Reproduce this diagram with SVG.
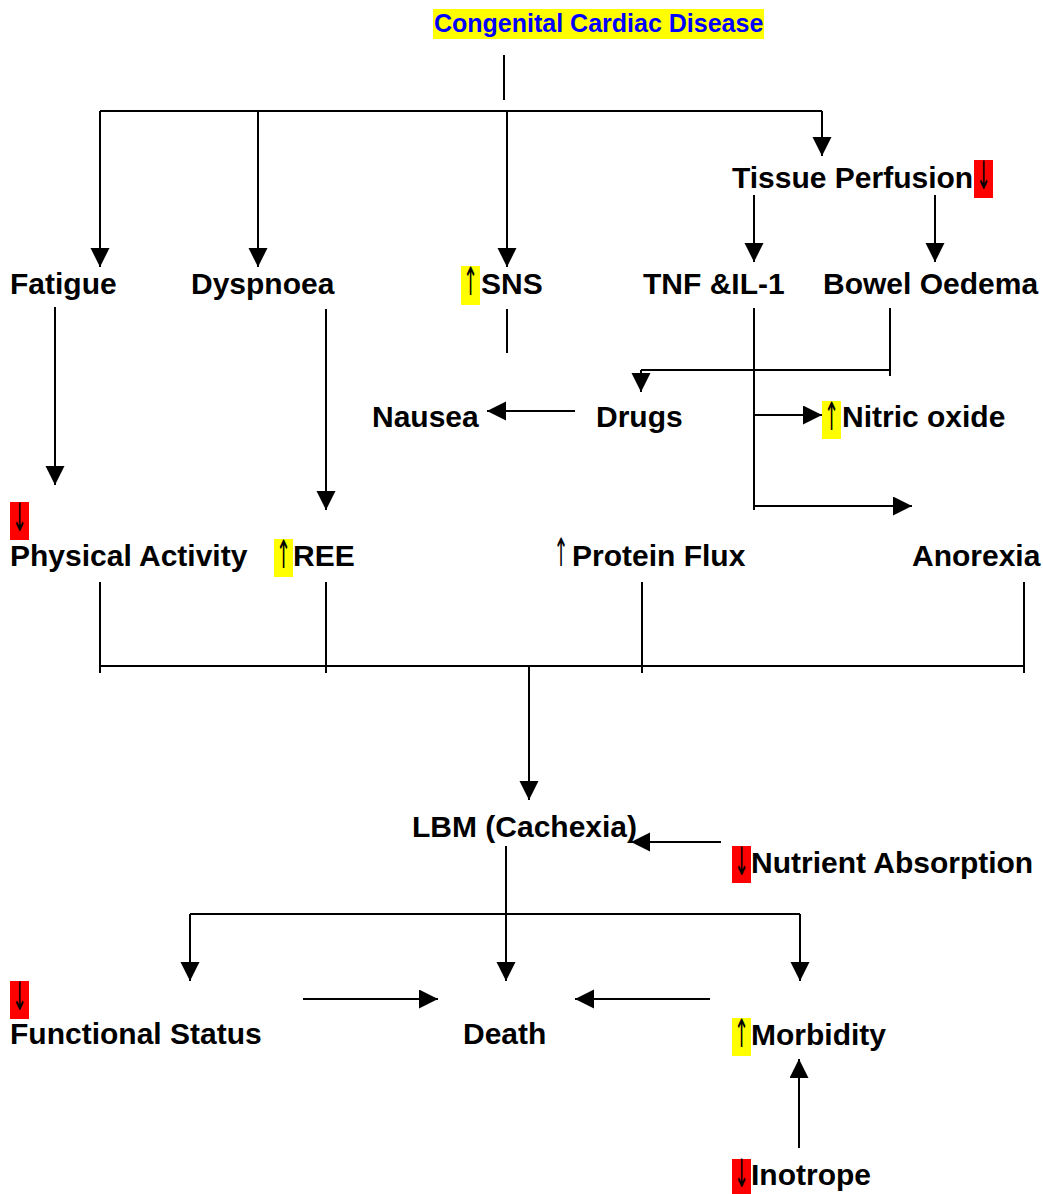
<svg xmlns="http://www.w3.org/2000/svg" width="1043" height="1194" viewBox="0 0 1043 1194">
<style>
.t{font-family:"Liberation Sans",Arial,sans-serif;font-weight:bold;font-size:30px;fill:#000}
.ttl{font-family:"Liberation Sans",Arial,sans-serif;font-weight:bold;font-size:25px;fill:#0000ff}
.ar{font-family:"DejaVu Sans",sans-serif;font-weight:normal;font-size:30px;fill:#000;text-anchor:middle}
.y{fill:#ffff00}
.r{fill:#ff0000}
.c path{fill:none;stroke:#000;stroke-width:2}
</style>
<defs>
<marker id="ah" markerUnits="userSpaceOnUse" markerWidth="20" markerHeight="20" refX="19" refY="9.5" orient="auto">
<path d="M0,0 L19,9.5 L0,19 Z" fill="#000"/>
</marker>
</defs>
<rect width="1043" height="1194" fill="#fff"/>
<g id="congenital"><rect class="y" x="433" y="9" width="331" height="30"/><text class="ttl" x="434" y="32">Congenital Cardiac Disease</text></g>
<g id="tissue"><text class="t" x="732" y="188">Tissue Perfusion</text><rect class="r" x="974" y="160" width="19" height="38"/><text class="ar" transform="translate(983.5,189) scale(0.6,1.3)">↓</text></g>
<g id="fatigue"><text class="t" x="10" y="294">Fatigue</text></g>
<g id="dyspnoea"><text class="t" x="191" y="294">Dyspnoea</text></g>
<g id="sns"><rect class="y" x="461" y="266" width="19" height="39"/><text class="ar" transform="translate(470.5,295) scale(0.6,1.3)">↑</text><text class="t" x="481" y="294">SNS</text></g>
<g id="tnf"><text class="t" x="643" y="294">TNF &amp;IL-1</text></g>
<g id="bowel"><text class="t" x="823" y="294">Bowel Oedema</text></g>
<g id="nausea"><text class="t" x="372" y="427">Nausea</text></g>
<g id="drugs"><text class="t" x="596" y="427">Drugs</text></g>
<g id="nitric"><rect class="y" x="822" y="401" width="19" height="38"/><text class="ar" transform="translate(831.5,430) scale(0.6,1.3)">↑</text><text class="t" x="842" y="427">Nitric oxide</text></g>
<g id="physical"><rect class="r" x="10" y="502" width="19" height="38"/><text class="ar" transform="translate(19.5,531) scale(0.6,1.3)">↓</text><text class="t" x="10" y="566">Physical Activity</text></g>
<g id="ree"><rect class="y" x="274" y="539" width="19" height="38"/><text class="ar" transform="translate(283.5,568) scale(0.6,1.3)">↑</text><text class="t" x="293" y="566">REE</text></g>
<g id="protein"><text class="ar" transform="translate(561,566) scale(0.6,1.3)">↑</text><text class="t" x="572" y="566">Protein Flux</text></g>
<g id="anorexia"><text class="t" x="912" y="566">Anorexia</text></g>
<g id="lbm"><text class="t" x="412" y="837">LBM (Cachexia)</text></g>
<g id="nutrient"><rect class="r" x="732" y="846" width="19" height="37"/><text class="ar" transform="translate(741.5,875) scale(0.6,1.3)">↓</text><text class="t" x="751" y="873">Nutrient Absorption</text></g>
<g id="functional"><rect class="r" x="10" y="981" width="19" height="38"/><text class="ar" transform="translate(19.5,1010) scale(0.6,1.3)">↓</text><text class="t" x="10" y="1044">Functional Status</text></g>
<g id="death"><text class="t" x="463" y="1044">Death</text></g>
<g id="morbidity"><rect class="y" x="732" y="1018" width="19" height="38"/><text class="ar" transform="translate(741.5,1047) scale(0.6,1.3)">↑</text><text class="t" x="751" y="1045">Morbidity</text></g>
<g id="inotrope"><rect class="r" x="732" y="1159" width="19" height="35"/><text class="ar" transform="translate(741.5,1187) scale(0.6,1.3)">↓</text><text class="t" x="751" y="1185">Inotrope</text></g>
<g id="connectors" class="c">
<path d="M504,55 V100"/>
<path d="M100,111 H822"/>
<path d="M100,111 V267" marker-end="url(#ah)"/>
<path d="M258,111 V267" marker-end="url(#ah)"/>
<path d="M507,111 V267" marker-end="url(#ah)"/>
<path d="M822,111 V156" marker-end="url(#ah)"/>
<path d="M754,195 V262" marker-end="url(#ah)"/>
<path d="M935,195 V262" marker-end="url(#ah)"/>
<path d="M507,309 V353"/>
<path d="M55,307 V485" marker-end="url(#ah)"/>
<path d="M326,309 V510" marker-end="url(#ah)"/>
<path d="M754,308 V510"/>
<path d="M890,308 V376"/>
<path d="M641,370 H890"/>
<path d="M641,370 V392" marker-end="url(#ah)"/>
<path d="M575,411 H487" marker-end="url(#ah)"/>
<path d="M754,415 H822" marker-end="url(#ah)"/>
<path d="M754,506 H912" marker-end="url(#ah)"/>
<path d="M100,582 V673"/>
<path d="M326,582 V673"/>
<path d="M642,582 V673"/>
<path d="M1024,582 V673"/>
<path d="M100,666 H1024"/>
<path d="M529,666 V800" marker-end="url(#ah)"/>
<path d="M721,842 H631" marker-end="url(#ah)"/>
<path d="M506,846 V981" marker-end="url(#ah)"/>
<path d="M190,914 H800"/>
<path d="M190,914 V981" marker-end="url(#ah)"/>
<path d="M800,914 V981" marker-end="url(#ah)"/>
<path d="M303,999 H438" marker-end="url(#ah)"/>
<path d="M710,999 H575" marker-end="url(#ah)"/>
<path d="M799,1148 V1059" marker-end="url(#ah)"/>
</g>
</svg>
